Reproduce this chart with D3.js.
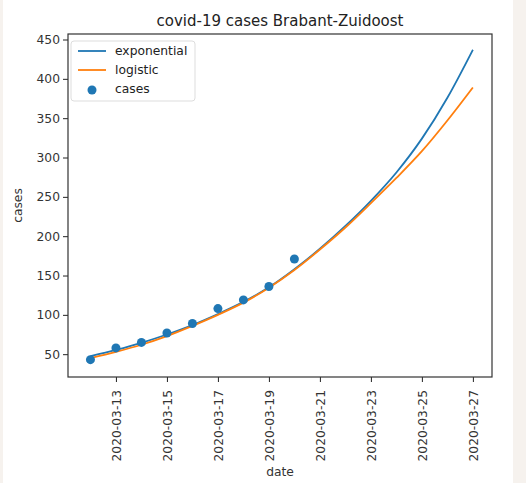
<!DOCTYPE html>
<html><head><meta charset="utf-8">
<script src="https://cdn.jsdelivr.net/npm/d3@7"></script>
<style>body{margin:0;background:#f6f2ee;} svg{display:block;}</style>
</head><body>
<svg id="c" width="526" height="483"></svg>
<script>
// ---- data ----
const caseDates = ["2020-03-12","2020-03-13","2020-03-14","2020-03-15","2020-03-16","2020-03-17","2020-03-18","2020-03-19","2020-03-20"];
const caseValues = [43, 58, 65, 77, 89, 108, 119, 136, 171];
const fitDates = ["2020-03-12","2020-03-13","2020-03-14","2020-03-15","2020-03-16","2020-03-17","2020-03-18","2020-03-19","2020-03-20","2020-03-21","2020-03-22","2020-03-23","2020-03-24","2020-03-25","2020-03-26","2020-03-27"];
const exponentialValues = [47.5, 55.5, 64.5, 75, 87, 101, 116.5, 135, 158, 184, 213, 245, 281, 324, 376, 437];
const logisticValues = [45, 53, 62, 73, 86, 100, 115.5, 134.5, 157, 183, 211, 242, 274, 308, 347, 389];
const xTickLabels = ["2020-03-13","2020-03-15","2020-03-17","2020-03-19","2020-03-21","2020-03-23","2020-03-25","2020-03-27"];
const yTicks = [50, 100, 150, 200, 250, 300, 350, 400, 450];
const seriesNames = ["exponential", "logistic", "cases"];

const parse = d3.utcParse("%Y-%m-%d");
const DAY = 864e5;
const svg = d3.select("#c");
const font = "DejaVu Sans, sans-serif";
const blue = "#1f77b4", orange = "#ff7f0e";
const fs = 12.3;

svg.append("rect").attr("x",3).attr("y",0).attr("width",510).attr("height",483).attr("fill","#ffffff");

const L = 68, R = 492, T = 34, B = 377;
const x0 = parse(fitDates[0]), x1 = parse(fitDates[fitDates.length-1]);
const x = d3.scaleUtc().domain([new Date(+x0 - 0.88*DAY), new Date(+x1 + 0.75*DAY)]).range([L, R]);
const y = d3.scaleLinear().domain([21, 457]).range([B, T]);

const g = svg.append("g");
g.append("rect").attr("x",L).attr("y",T).attr("width",R-L).attr("height",B-T).attr("fill","#fff");

const line = d3.line().x(d=>x(d[0])).y(d=>y(d[1])).curve(d3.curveMonotoneX);
g.append("path").datum(fitDates.map((d,i)=>[parse(d), exponentialValues[i]]))
  .attr("d", line).attr("fill","none").attr("stroke",blue).attr("stroke-width",1.8);
g.append("path").datum(fitDates.map((d,i)=>[parse(d), logisticValues[i]]))
  .attr("d", line).attr("fill","none").attr("stroke",orange).attr("stroke-width",1.8);
g.selectAll("circle.pt").data(caseDates.map((d,i)=>[parse(d), caseValues[i]])).join("circle")
  .attr("class","pt").attr("cx",d=>x(d[0])).attr("cy",d=>y(d[1])).attr("r",4.5).attr("fill",blue);

// axes
const xAxis = d3.axisBottom(x).tickValues(xTickLabels.map(parse)).tickFormat(d3.utcFormat("%Y-%m-%d")).tickSize(5).tickSizeOuter(0);
const xg = svg.append("g").attr("transform",`translate(0,${B})`).call(xAxis);
xg.select(".domain").remove();
xg.selectAll(".tick line").attr("stroke","#222");
xg.selectAll(".tick text").attr("transform","rotate(-90)").attr("text-anchor","end")
  .attr("x",-13).attr("y",0).attr("dy","0.35em").attr("font-family",font).attr("font-size",fs).attr("fill","#333");

const yAxis = d3.axisLeft(y).tickValues(yTicks).tickSize(5).tickSizeOuter(0);
const yg = svg.append("g").attr("transform",`translate(${L},0)`).call(yAxis);
yg.select(".domain").remove();
yg.selectAll(".tick line").attr("stroke","#222");
yg.selectAll(".tick text").attr("x",-8).attr("font-family",font).attr("font-size",fs).attr("fill","#333");

svg.append("rect").attr("x",L).attr("y",T).attr("width",R-L).attr("height",B-T)
  .attr("fill","none").attr("stroke","#333").attr("stroke-width",1.2);

// labels
svg.append("text").attr("x",(L+R)/2).attr("y",26).attr("text-anchor","middle")
  .attr("font-family",font).attr("font-size",15).attr("fill","#222").text("covid-19 cases Brabant-Zuidoost");
svg.append("text").attr("x",(L+R)/2).attr("y",476).attr("text-anchor","middle")
  .attr("font-family",font).attr("font-size",fs).attr("fill","#333").text("date");
svg.append("text").attr("transform",`translate(22,${(T+B)/2}) rotate(-90)`).attr("text-anchor","middle")
  .attr("font-family",font).attr("font-size",fs).attr("fill","#333").text("cases");

// legend
const lg = svg.append("g");
lg.append("rect").attr("x",71).attr("y",41).attr("width",124).attr("height",60).attr("rx",3)
  .attr("fill","#fff").attr("fill-opacity",0.85).attr("stroke","#ddd");
const ly = [51, 70, 89];
lg.append("line").attr("x1",78).attr("x2",106).attr("y1",ly[0]).attr("y2",ly[0]).attr("stroke",blue).attr("stroke-width",1.8);
lg.append("line").attr("x1",78).attr("x2",106).attr("y1",ly[1]).attr("y2",ly[1]).attr("stroke",orange).attr("stroke-width",1.8);
lg.append("circle").attr("cx",92).attr("cy",ly[2]+1).attr("r",4.5).attr("fill",blue);
seriesNames.forEach((n,i)=>{
  lg.append("text").attr("x",115).attr("y",ly[i]).attr("dy","0.35em").attr("font-family",font)
    .attr("font-size",fs).attr("fill","#222").text(n);
});
</script>
</body></html>
